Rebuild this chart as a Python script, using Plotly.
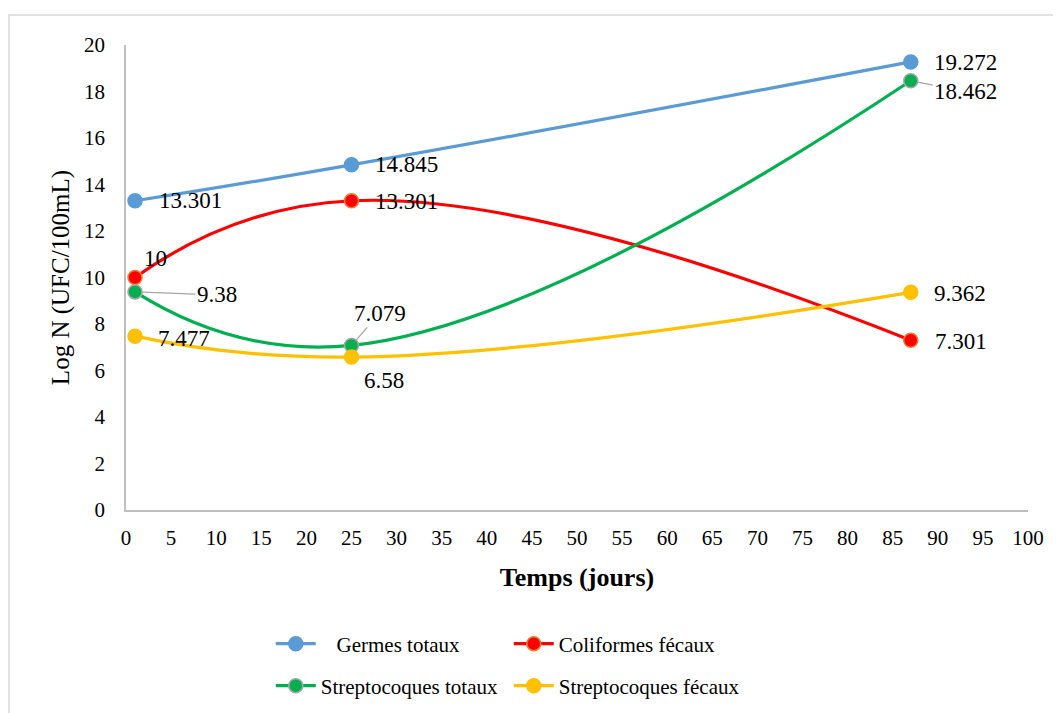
import plotly.graph_objects as go

# ---- data ----
days = [1, 25, 87]
germes_totaux = [13.301, 14.845, 19.272]
coliformes_fecaux = [10, 13.301, 7.301]
strepto_totaux = [9.38, 7.079, 18.462]
strepto_fecaux = [7.477, 6.58, 9.362]

series_names = ["Germes totaux", "Coliformes fécaux", "Streptocoques totaux", "Streptocoques fécaux"]
x_ticks = list(range(0, 101, 5))
y_ticks = list(range(0, 21, 2))

FONT = "Liberation Serif, Times New Roman, serif"

styles = [
    dict(line="#5B9BD5", fill="#5B9BD5", edge="#5B9BD5", legend="legend", label="\u00a0\u00a0 Germes totaux"),
    dict(line="#FF0000", fill="#FF0000", edge="#ED7D31", legend="legend", label=None),
    dict(line="#00B050", fill="#00B050", edge="#A5A5A5", legend="legend2", label=None),
    dict(line="#FFC000", fill="#FFC000", edge="#FFC000", legend="legend2", label=None),
]
values = [germes_totaux, coliformes_fecaux, strepto_totaux, strepto_fecaux]

fig = go.Figure()
for name, vals, st in zip(series_names, values, styles):
    fig.add_trace(go.Scatter(
        x=days, y=vals, name=st["label"] or name, mode="lines+markers",
        legend=st["legend"],
        line=dict(color=st["line"], width=3.2, shape="spline", smoothing=1.3),
        marker=dict(size=14, color=st["fill"], line=dict(color=st["edge"], width=1.5)),
    ))

# label offsets (pixels) per series / point
offsets = [
    [(55, 0), (55, 0), (55, 1)],
    [(20, -19), (55, 1), (50, 1)],
    [(82, 3), (28, -32), (55, 11)],
    [(49, 2), (32, 23), (49, 1)],
]
arrows = [
    [False, False, False],
    [False, False, False],
    [True, True, True],
    [False, False, False],
]

def fmt(v):
    return f"{v:.3f}".rstrip("0").rstrip(".")

for vals, offs, arr in zip(values, offsets, arrows):
    for xv, yv, (ax, ay), a in zip(days, vals, offs, arr):
        fig.add_annotation(
            x=xv, y=yv, xref="x", yref="y", text=fmt(yv),
            showarrow=True, ax=ax, ay=ay, axref="pixel", ayref="pixel",
            arrowhead=0, arrowwidth=1.3,
            arrowcolor="#A6A6A6" if a else "rgba(0,0,0,0)",
            standoff=7,
            font=dict(family=FONT, size=23, color="black"),
        )

# outer chart border
fig.add_shape(type="rect", xref="paper", yref="paper",
              x0=-0.1297, x1=1.1, y0=-0.5, y1=1.0645,
              line=dict(color="#D9D9D9", width=1.5), fillcolor="rgba(0,0,0,0)", layer="below")

leg_common = dict(
    orientation="h", xanchor="left", yanchor="middle",
    entrywidth=183, entrywidthmode="pixels",
    font=dict(family=FONT, size=21, color="black"),
    itemwidth=40, bgcolor="rgba(0,0,0,0)",
)

fig.update_layout(
    width=1053, height=705,
    margin=dict(l=118, r=33, t=37, b=203, autoexpand=False),
    paper_bgcolor="white", plot_bgcolor="white",
    font=dict(family=FONT, size=21, color="black"),
    showlegend=True,
    legend=dict(x=0.1605, y=-(644 - 510) / 465, **leg_common),
    legend2=dict(x=0.1605, y=-(686 - 510) / 465, **leg_common),
    xaxis=dict(
        range=[0, 100], tickmode="array", tickvals=x_ticks,
        showgrid=False, zeroline=False, showline=True, linecolor="#BFBFBF", linewidth=1.5,
        ticks="", ticklabelstandoff=8, tickfont=dict(size=21),
        title=dict(text="<b>Temps (jours)</b>", font=dict(family=FONT, size=26), standoff=19),
    ),
    yaxis=dict(
        range=[0, 20], tickmode="array", tickvals=y_ticks,
        showgrid=False, zeroline=False, showline=True, linecolor="#BFBFBF", linewidth=1.5,
        ticks="", ticklabelstandoff=15, tickfont=dict(size=21),
        title=dict(text="Log N (UFC/100mL)", font=dict(family=FONT, size=25), standoff=7),
    ),
)

fig.write_html("out.html")
